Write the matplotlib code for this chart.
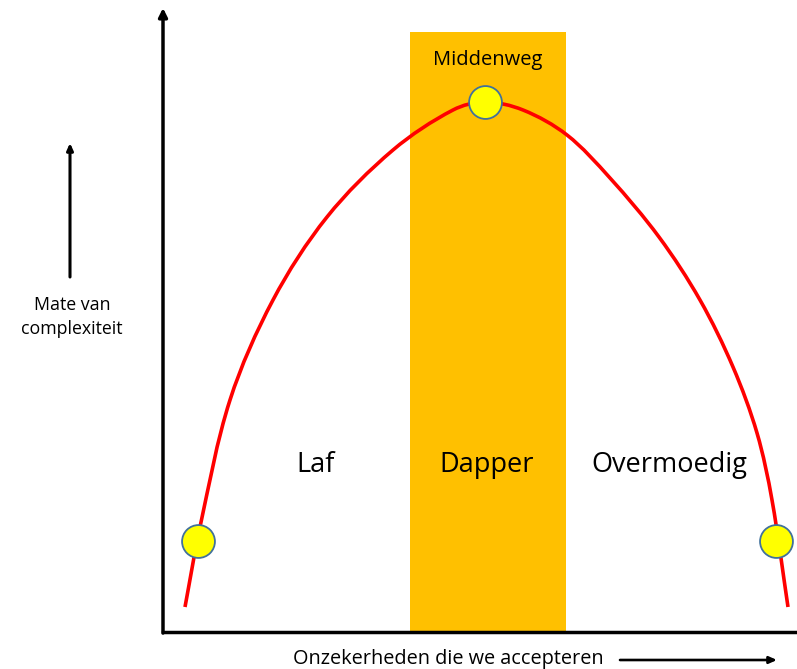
import matplotlib.pyplot as plt
from matplotlib.path import Path
from matplotlib.patches import PathPatch

plt.rcParams['font.family'] = ['Open Sans', 'DejaVu Sans']

# curve (x along the axis, y upwards, pixel units)
curve_x = [22, 37, 67, 110, 164, 230, 290, 322,
           360, 404, 447, 496, 537, 570, 594, 609, 625]
curve_y = [25, 105, 232, 332, 415, 482, 522, 530,
           522, 497, 454, 395, 332, 265, 199, 132, 25]

# highlighted points
point_x = [35, 322, 613]
point_y = [91, 530, 91]

# orange band "Dapper"
band_center = 325
band_width = 156
band_height = 600

region_labels = ['Laf', 'Dapper', 'Overmoedig']
region_x = [153, 324, 506]


def smooth_path(xs, ys):
    # spline through the points (chord length spacing), drawn as cubic bezier pieces
    pts = list(zip(xs, ys))
    n = len(pts)
    t = [0.0]
    for i in range(1, n):
        d = ((pts[i][0] - pts[i - 1][0]) ** 2 + (pts[i][1] - pts[i - 1][1]) ** 2) ** 0.5
        t.append(t[-1] + d)
    tang = []
    for i in range(n):
        a, b = max(i - 1, 0), min(i + 1, n - 1)
        dt = t[b] - t[a]
        tang.append(((pts[b][0] - pts[a][0]) / dt, (pts[b][1] - pts[a][1]) / dt))
    verts = [pts[0]]
    codes = [Path.MOVETO]
    for i in range(n - 1):
        h = (t[i + 1] - t[i]) / 3
        c1 = (pts[i][0] + tang[i][0] * h, pts[i][1] + tang[i][1] * h)
        c2 = (pts[i + 1][0] - tang[i + 1][0] * h, pts[i + 1][1] - tang[i + 1][1] * h)
        verts += [c1, c2, pts[i + 1]]
        codes += [Path.CURVE4] * 3
    return Path(verts, codes)


W, H = 797, 669
fig = plt.figure(figsize=(W / 100, H / 100), dpi=100)
ax = fig.add_axes([163 / W, 37 / H, 634 / W, 622 / H])
ax.set_xlim(0, 634)
ax.set_ylim(0, 622)

ax.bar(band_center, band_height, width=band_width, color='#FFC000', zorder=1)
ax.add_patch(PathPatch(smooth_path(curve_x, curve_y), fill=False, edgecolor='#FF0000', lw=2.6,
                       zorder=2, capstyle='butt'))
ax.scatter(point_x, point_y, s=560, color='#FFFF00', edgecolor='#41719C', lw=1.3, zorder=3)

for lab, xx in zip(region_labels, region_x):
    ax.text(xx, 167, lab, fontsize=19.5, ha='center', va='center', zorder=4)
ax.text(band_center, 572, 'Middenweg', fontsize=14.5, ha='center', va='center', zorder=4)

for s in ['top', 'right', 'left']:
    ax.spines[s].set_visible(False)
ax.spines['bottom'].set_linewidth(2.5)
ax.set_xticks([])
ax.set_yticks([])
ax.patch.set_alpha(0)

# y axis with arrow head
ax.annotate('', xy=(0, 624), xytext=(0, -1), xycoords='data', annotation_clip=False,
            arrowprops=dict(arrowstyle='-|>,head_length=0.5,head_width=0.25', lw=2.5, color='black',
                            shrinkA=0, shrinkB=0))

# side label with arrow
ax.annotate('', xy=(70, H - 143), xytext=(70, H - 277), xycoords='figure pixels',
            arrowprops=dict(arrowstyle='-|>,head_length=0.4,head_width=0.18', lw=2.2, color='black',
                            shrinkA=0, shrinkB=0))
fig.text(72 / W, 1 - 317 / H, 'Mate van\ncomplexiteit', fontsize=12.8, ha='center', va='center',
         linespacing=1.4)

fig.text(293 / W, 1 - 659 / H, 'Onzekerheden die we accepteren', fontsize=14.3, ha='left', va='center')
ax.annotate('', xy=(777, 9), xytext=(620, 9), xycoords='figure pixels',
            arrowprops=dict(arrowstyle='-|>,head_length=0.45,head_width=0.2', lw=1.9, color='black',
                            shrinkA=0, shrinkB=0))

fig.savefig('out.png', dpi=100)
